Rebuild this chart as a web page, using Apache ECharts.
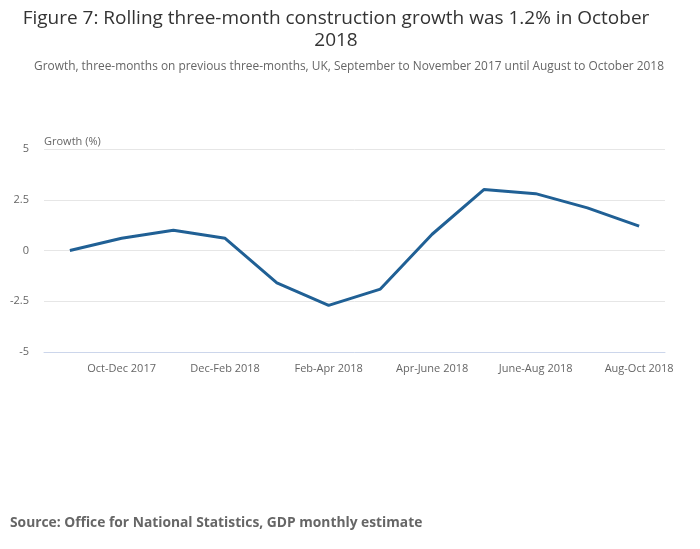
<!DOCTYPE html>
<html>
<head>
<meta charset="utf-8">
<script src="https://cdn.jsdelivr.net/npm/echarts@6/dist/echarts.min.js"></script>
<style>
  html, body { margin: 0; padding: 0; background: #fff; }
  #chart { width: 700px; height: 549px; }
</style>
</head>
<body>
<div id="chart"></div>
<script>
// 3개월 이동 건설 성장률
var categories = ['Sep-Nov 2017', 'Oct-Dec 2017', 'Nov-Jan 2018', 'Dec-Feb 2018', 'Jan-Mar 2018', 'Feb-Apr 2018',
  'Mar-May 2018', 'Apr-June 2018', 'May-July 2018', 'June-Aug 2018', 'July-Sep 2018', 'Aug-Oct 2018'];
var growth = [0, 0.6, 1.0, 0.6, -1.6, -2.7, -1.9, 0.8, 3.0, 2.8, 2.1, 1.2];
var yTicks = [-5, -2.5, 0, 2.5, 5];

var chart = echarts.init(document.getElementById('chart'));

// 라벨은 하나 걸러 하나씩
function everyOther(index) {
  return index % 2 === 1;
}

var option = {
  animation: false,
  textStyle: { fontFamily: 'Open Sans' },
  graphic: [
    {
      type: 'text',
      x: 336,
      y: 8,
      style: {
        text: 'Figure 7: Rolling three-month construction growth was 1.2% in October\n2018',
        align: 'center',
        verticalAlign: 'top',
        fontSize: 19,
        lineHeight: 22,
        fill: '#333333',
        fontFamily: 'Open Sans'
      }
    },
    {
      type: 'text',
      x: 349,
      y: 61,
      style: {
        text: 'Growth, three-months on previous three-months, UK, September to November 2017 until August to October 2018',
        align: 'center',
        verticalAlign: 'top',
        fontSize: 11.9,
        fill: '#666666',
        fontFamily: 'Open Sans'
      }
    },
    {
      type: 'text',
      x: 10,
      y: 516,
      style: {
        text: 'Source: Office for National Statistics, GDP monthly estimate',
        verticalAlign: 'top',
        fontSize: 13.8,
        fontWeight: 'bold',
        fill: '#666666',
        fontFamily: 'Open Sans'
      }
    }
  ],
  grid: {
    left: 44,
    right: 35,
    top: 149,
    bottom: 197
  },
  xAxis: {
    type: 'category',
    data: categories,
    boundaryGap: true,
    axisLine: { onZero: false, lineStyle: { color: '#ccd6eb' } },
    axisTick: {
      alignWithLabel: true,
      interval: function (index) { return everyOther(index); },
      length: 8,
      lineStyle: { color: '#ccd6eb' }
    },
    axisLabel: {
      interval: function (index) { return everyOther(index); },
      color: '#666666',
      fontSize: 11,
      margin: 11
    }
  },
  yAxis: {
    type: 'value',
    min: yTicks[0],
    max: yTicks[yTicks.length - 1],
    interval: 2.5,
    name: 'Growth (%)',
    nameLocation: 'end',
    nameGap: 2,
    nameTextStyle: { align: 'left', color: '#666666', fontSize: 11 },
    axisLine: { show: false },
    axisTick: { show: false },
    splitLine: { lineStyle: { color: '#e6e6e6' } },
    axisLabel: { color: '#666666', fontSize: 11, margin: 15, padding: [4, 0, 0, 0] }
  },
  series: [
    {
      name: 'Growth',
      type: 'line',
      data: growth,
      symbol: 'none',
      lineStyle: { color: '#206095', width: 3 },
      itemStyle: { color: '#206095' }
    }
  ]
};

chart.setOption(option);
</script>
</body>
</html>
